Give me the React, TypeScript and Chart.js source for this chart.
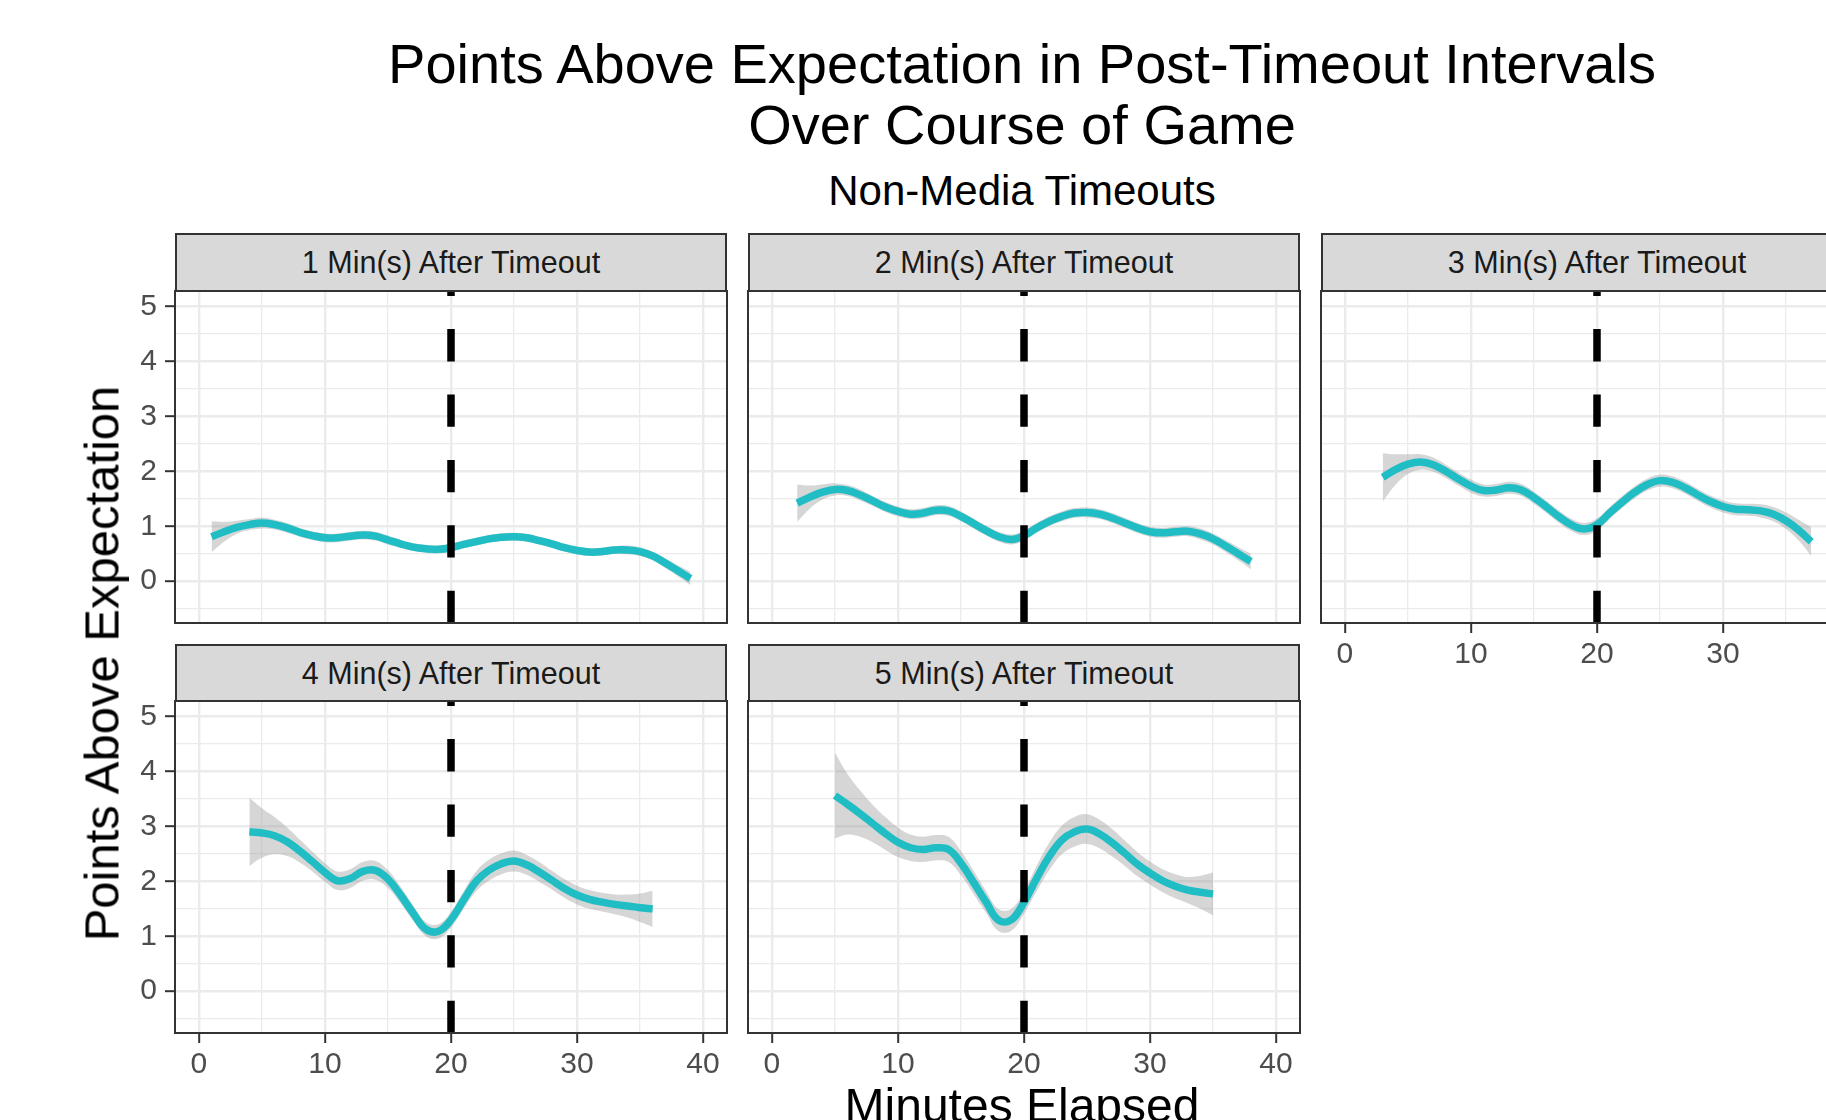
import React, { useEffect, useRef } from 'react';
import { Chart, registerables } from 'chart.js';

Chart.register(...registerables);

const FONT = '"Liberation Sans", Arial, Helvetica, sans-serif';
Chart.defaults.font.family = FONT;

// ---------- text ----------
const TITLE_LINES = ['Points Above Expectation in Post-Timeout Intervals', 'Over Course of Game'];
const SUBTITLE = 'Non-Media Timeouts';
const X_TITLE = 'Minutes Elapsed';
const Y_TITLE = 'Points Above Expectation';
const FACET_LABELS = [
  '1 Min(s) After Timeout',
  '2 Min(s) After Timeout',
  '3 Min(s) After Timeout',
  '4 Min(s) After Timeout',
  '5 Min(s) After Timeout',
];

// ---------- axes ----------
const X_LIMITS = [-1.9, 41.9];
const Y_LIMITS = [-0.76, 5.28];
const X_MAJOR_STEP = 10;
const X_MINOR_STEP = 5;
const Y_MAJOR_STEP = 1;
const Y_MINOR_STEP = 0.5;
const VLINE_MINUTE = 20;

// ---------- data (smoothed points above expectation, with ribbon half-width) ----------
const minutes1 = [1, 2, 3, 4, 5, 6, 7, 8, 9, 10, 11, 12, 13, 14, 15, 16, 17, 18, 19, 20, 21, 22, 23, 24, 25, 26, 27, 28, 29, 30, 31, 32, 33, 34, 35, 36, 37, 38, 39];
const pae1 = [0.81, 0.90, 0.98, 1.03, 1.06, 1.03, 0.97, 0.89, 0.83, 0.79, 0.79, 0.82, 0.84, 0.82, 0.75, 0.68, 0.62, 0.59, 0.58, 0.61, 0.67, 0.72, 0.77, 0.80, 0.81, 0.79, 0.74, 0.68, 0.61, 0.56, 0.53, 0.54, 0.57, 0.57, 0.54, 0.46, 0.33, 0.19, 0.05];
const band1 = [0.28, 0.18, 0.12, 0.10, 0.10, 0.09, 0.09, 0.08, 0.08, 0.08, 0.08, 0.08, 0.08, 0.08, 0.08, 0.07, 0.07, 0.07, 0.07, 0.07, 0.07, 0.07, 0.07, 0.07, 0.07, 0.07, 0.07, 0.07, 0.07, 0.07, 0.07, 0.07, 0.07, 0.08, 0.08, 0.08, 0.09, 0.10, 0.12];

const minutes2 = [2, 3, 4, 5, 6, 7, 8, 9, 10, 11, 12, 13, 14, 15, 16, 17, 18, 19, 20, 21, 22, 23, 24, 25, 26, 27, 28, 29, 30, 31, 32, 33, 34, 35, 36, 37, 38];
const pae2 = [1.42, 1.53, 1.62, 1.67, 1.65, 1.57, 1.46, 1.35, 1.27, 1.22, 1.24, 1.29, 1.28, 1.18, 1.05, 0.92, 0.81, 0.76, 0.83, 0.97, 1.09, 1.18, 1.24, 1.25, 1.22, 1.15, 1.06, 0.97, 0.90, 0.88, 0.90, 0.91, 0.86, 0.77, 0.64, 0.50, 0.36];
const band2 = [0.34, 0.21, 0.14, 0.11, 0.10, 0.10, 0.09, 0.09, 0.09, 0.09, 0.09, 0.09, 0.09, 0.09, 0.09, 0.09, 0.09, 0.09, 0.09, 0.09, 0.09, 0.09, 0.09, 0.09, 0.09, 0.09, 0.09, 0.09, 0.09, 0.09, 0.09, 0.09, 0.10, 0.10, 0.11, 0.12, 0.14];

const minutes3 = [3, 4, 5, 6, 7, 8, 9, 10, 11, 12, 13, 14, 15, 16, 17, 18, 19, 20, 21, 22, 23, 24, 25, 26, 27, 28, 29, 30, 31, 32, 33, 34, 35, 36, 37];
const pae3 = [1.89, 2.03, 2.13, 2.17, 2.12, 2.00, 1.86, 1.73, 1.65, 1.66, 1.70, 1.66, 1.52, 1.35, 1.17, 1.02, 0.95, 1.03, 1.24, 1.44, 1.62, 1.76, 1.83, 1.80, 1.70, 1.57, 1.45, 1.36, 1.31, 1.30, 1.28, 1.22, 1.10, 0.93, 0.72];
const band3 = [0.44, 0.28, 0.18, 0.14, 0.13, 0.12, 0.12, 0.12, 0.11, 0.11, 0.11, 0.11, 0.11, 0.11, 0.11, 0.11, 0.11, 0.11, 0.11, 0.11, 0.11, 0.11, 0.11, 0.11, 0.11, 0.11, 0.11, 0.11, 0.11, 0.11, 0.12, 0.13, 0.15, 0.19, 0.26];

const minutes4 = [4, 5, 6, 7, 8, 9, 10, 11, 12, 13, 14, 15, 16, 17, 18, 19, 20, 21, 22, 23, 24, 25, 26, 27, 28, 29, 30, 31, 32, 33, 34, 35, 36];
const pae4 = [2.90, 2.88, 2.83, 2.72, 2.55, 2.36, 2.16, 2.01, 2.05, 2.18, 2.20, 2.04, 1.75, 1.42, 1.13, 1.09, 1.30, 1.66, 2.00, 2.20, 2.32, 2.37, 2.30, 2.17, 2.02, 1.87, 1.75, 1.67, 1.62, 1.58, 1.55, 1.52, 1.50];
const band4 = [0.62, 0.45, 0.34, 0.26, 0.21, 0.18, 0.17, 0.17, 0.17, 0.17, 0.17, 0.16, 0.15, 0.14, 0.13, 0.13, 0.14, 0.16, 0.18, 0.19, 0.19, 0.19, 0.18, 0.18, 0.17, 0.17, 0.17, 0.17, 0.17, 0.18, 0.21, 0.26, 0.33];

const minutes5 = [5, 6, 7, 8, 9, 10, 11, 12, 13, 14, 15, 16, 17, 18, 19, 20, 21, 22, 23, 24, 25, 26, 27, 28, 29, 30, 31, 32, 33, 34, 35];
const pae5 = [3.56, 3.40, 3.23, 3.05, 2.87, 2.71, 2.61, 2.58, 2.61, 2.58, 2.33, 1.98, 1.62, 1.29, 1.30, 1.62, 2.05, 2.45, 2.75, 2.90, 2.95, 2.86, 2.70, 2.51, 2.31, 2.15, 2.01, 1.91, 1.84, 1.80, 1.77];
const band5 = [0.78, 0.55, 0.42, 0.34, 0.30, 0.27, 0.24, 0.23, 0.23, 0.23, 0.22, 0.21, 0.20, 0.20, 0.20, 0.21, 0.23, 0.25, 0.26, 0.27, 0.27, 0.26, 0.25, 0.23, 0.22, 0.21, 0.21, 0.22, 0.24, 0.30, 0.39];

// ---------- style / layout ----------
const TEAL = 'rgb(32,190,196)';
const RIBBON = 'rgba(153,153,153,0.4)';
const GRID = '#EBEBEB';
const DARK = '#333333';
const TICK_TEXT = '#4D4D4D';

const COL_LEFT = [175, 748, 1321];
const ROW_TOP = [291, 701];
const STRIP_TOP = [233, 644];
const PW = 552;
const PH = 332;
const YW = 100;
const XH = 70;
const PAD = 4;

const PANELS = [
  { label: FACET_LABELS[0], col: 0, row: 0, showX: false, showY: true, minutes: minutes1, pae: pae1, band: band1 },
  { label: FACET_LABELS[1], col: 1, row: 0, showX: false, showY: false, minutes: minutes2, pae: pae2, band: band2 },
  { label: FACET_LABELS[2], col: 2, row: 0, showX: true, showY: false, minutes: minutes3, pae: pae3, band: band3 },
  { label: FACET_LABELS[3], col: 0, row: 1, showX: true, showY: true, minutes: minutes4, pae: pae4, band: band4 },
  { label: FACET_LABELS[4], col: 1, row: 1, showX: true, showY: false, minutes: minutes5, pae: pae5, band: band5 },
];

const near = (a: number, b: number) => Math.abs(a - b) < 1e-9;
const isMajorX = (v: number) => near(v / X_MAJOR_STEP, Math.round(v / X_MAJOR_STEP));
const isMajorY = (v: number) => near(v / Y_MAJOR_STEP, Math.round(v / Y_MAJOR_STEP));

const decorPlugin = {
  id: 'panelDecor',
  afterDatasetsDraw(chart: any) {
    const { ctx, chartArea, scales } = chart;
    const x = scales.x.getPixelForValue(VLINE_MINUTE);
    ctx.save();
    ctx.beginPath();
    ctx.rect(chartArea.left, chartArea.top, chartArea.right - chartArea.left, chartArea.bottom - chartArea.top);
    ctx.clip();
    ctx.strokeStyle = '#000000';
    ctx.lineWidth = 7.5;
    ctx.lineCap = 'butt';
    ctx.setLineDash([32.3, 33.1]);
    ctx.beginPath();
    ctx.moveTo(x, chartArea.bottom);
    ctx.lineTo(x, chartArea.top);
    ctx.stroke();
    ctx.restore();
  },
  afterDraw(chart: any) {
    const { ctx, chartArea } = chart;
    ctx.save();
    ctx.strokeStyle = DARK;
    ctx.lineWidth = 2;
    ctx.setLineDash([]);
    ctx.strokeRect(chartArea.left, chartArea.top, chartArea.right - chartArea.left, chartArea.bottom - chartArea.top);
    ctx.restore();
  },
};

function zeroPad(s: any) {
  s.paddingLeft = 0;
  s.paddingRight = 0;
  s.paddingTop = 0;
  s.paddingBottom = 0;
}

function Panel(props: any) {
  const { col, row, showX, showY, minutes, pae, band } = props;
  const ref = useRef<HTMLCanvasElement>(null);
  const W = YW + PW + PAD;
  const H = PAD + PH + XH;

  useEffect(() => {
    const mean = minutes.map((m: number, i: number) => ({ x: m, y: pae[i] }));
    const upper = minutes.map((m: number, i: number) => ({ x: m, y: pae[i] + band[i] }));
    const lower = minutes.map((m: number, i: number) => ({ x: m, y: pae[i] - band[i] }));
    const tickFont = { size: 30, family: FONT };
    const chart = new Chart(ref.current as HTMLCanvasElement, {
      type: 'line',
      data: {
        datasets: [
          { data: mean, borderColor: TEAL, borderWidth: 7.5, pointRadius: 0, tension: 0.4, fill: false, borderCapStyle: 'butt' },
          { data: upper, borderColor: 'rgba(0,0,0,0)', borderWidth: 0, pointRadius: 0, tension: 0.4, fill: '+1', backgroundColor: RIBBON },
          { data: lower, borderColor: 'rgba(0,0,0,0)', borderWidth: 0, pointRadius: 0, tension: 0.4, fill: false },
        ],
      } as any,
      options: {
        animation: false,
        responsive: false,
        maintainAspectRatio: false,
        devicePixelRatio: 1,
        events: [],
        layout: { padding: { top: PAD, right: PAD, left: 0, bottom: 0 } },
        plugins: { legend: { display: false }, tooltip: { enabled: false }, title: { display: false } },
        scales: {
          x: {
            type: 'linear',
            min: X_LIMITS[0],
            max: X_LIMITS[1],
            ticks: {
              stepSize: X_MINOR_STEP,
              includeBounds: false,
              autoSkip: false,
              maxRotation: 0,
              minRotation: 0,
              display: showX,
              padding: 4,
              color: TICK_TEXT,
              font: tickFont,
              callback: (v: any) => (isMajorX(Number(v)) ? String(v) : ''),
            },
            grid: {
              color: GRID,
              lineWidth: (c: any) => (c.tick && isMajorX(c.tick.value) ? 2.4 : 1.3),
              drawTicks: showX,
              tickLength: 10,
              tickWidth: 2,
              tickColor: (c: any) => (c.tick && isMajorX(c.tick.value) ? DARK : 'rgba(0,0,0,0)'),
            },
            border: { display: false },
            afterFit: (s: any) => {
              s.height = XH;
              zeroPad(s);
            },
          },
          y: {
            type: 'linear',
            min: Y_LIMITS[0],
            max: Y_LIMITS[1],
            ticks: {
              stepSize: Y_MINOR_STEP,
              includeBounds: false,
              autoSkip: false,
              display: showY,
              padding: 8,
              color: TICK_TEXT,
              font: tickFont,
              callback: (v: any) => (isMajorY(Number(v)) ? String(v) : ''),
            },
            grid: {
              color: GRID,
              lineWidth: (c: any) => (c.tick && isMajorY(c.tick.value) ? 2.4 : 1.3),
              drawTicks: showY,
              tickLength: 10,
              tickWidth: 2,
              tickColor: (c: any) => (c.tick && isMajorY(c.tick.value) ? DARK : 'rgba(0,0,0,0)'),
            },
            border: { display: false },
            afterFit: (s: any) => {
              s.width = YW;
              zeroPad(s);
            },
          },
        },
      } as any,
      plugins: [decorPlugin],
    });
    return () => chart.destroy();
  }, []);

  return (
    <canvas
      ref={ref}
      width={W}
      height={H}
      style={{ position: 'absolute', left: COL_LEFT[col] - YW, top: ROW_TOP[row] - PAD, width: W, height: H }}
    />
  );
}

function Strip(props: any) {
  const { col, row, label } = props;
  return (
    <div
      style={{
        position: 'absolute',
        left: COL_LEFT[col],
        top: STRIP_TOP[row],
        width: PW,
        height: ROW_TOP[row] - STRIP_TOP[row] + 1,
        boxSizing: 'border-box',
        background: '#D9D9D9',
        border: `2px solid ${DARK}`,
        display: 'flex',
        alignItems: 'center',
        justifyContent: 'center',
        fontFamily: FONT,
        fontSize: 30.5,
        color: '#1A1A1A',
        whiteSpace: 'nowrap',
      }}
    >
      {label}
    </div>
  );
}

export default function App() {
  return (
    <div
      style={{
        position: 'absolute',
        left: 0,
        top: 0,
        width: 1826,
        height: 1120,
        overflow: 'hidden',
        background: '#FFFFFF',
        fontFamily: FONT,
      }}
    >
      <div
        style={{
          position: 'absolute',
          left: 1022 - 800,
          width: 1600,
          top: 33,
          fontSize: 56,
          lineHeight: '61px',
          textAlign: 'center',
          color: '#000',
          whiteSpace: 'nowrap',
        }}
      >
        {TITLE_LINES.map((t) => (
          <div key={t}>{t}</div>
        ))}
      </div>
      <div
        style={{
          position: 'absolute',
          left: 1022 - 800,
          width: 1600,
          top: 170,
          fontSize: 42,
          lineHeight: '42px',
          textAlign: 'center',
          color: '#000',
          whiteSpace: 'nowrap',
        }}
      >
        {SUBTITLE}
      </div>
      {PANELS.map((p, i) => (
        <React.Fragment key={i}>
          <Strip col={p.col} row={p.row} label={p.label} />
          <Panel {...p} />
        </React.Fragment>
      ))}
      <div
        style={{
          position: 'absolute',
          left: 101.5 - 400,
          top: 663 - 24.5,
          width: 800,
          height: 49,
          fontSize: 49,
          lineHeight: '49px',
          textAlign: 'center',
          color: '#000',
          whiteSpace: 'nowrap',
          transform: 'rotate(-90deg)',
          transformOrigin: '50% 50%',
        }}
      >
        {Y_TITLE}
      </div>
      <div
        style={{
          position: 'absolute',
          left: 1022 - 400,
          top: 1082,
          width: 800,
          fontSize: 48,
          lineHeight: '48px',
          textAlign: 'center',
          color: '#000',
          whiteSpace: 'nowrap',
        }}
      >
        {X_TITLE}
      </div>
    </div>
  );
}
